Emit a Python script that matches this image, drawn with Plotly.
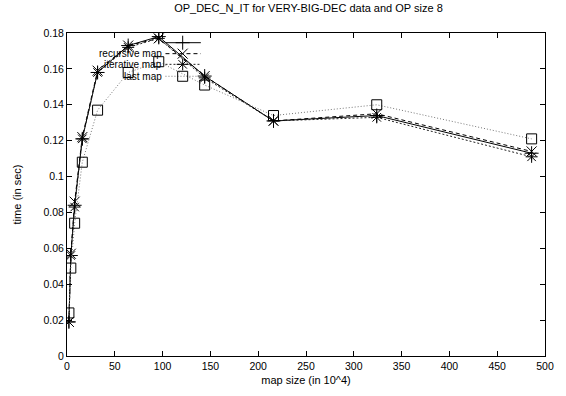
import plotly.graph_objects as go

map_size = [2, 4, 8, 16, 32, 64, 96, 144, 216, 324, 486]
series0 = [0.019, 0.056, 0.084, 0.121, 0.158, 0.173, 0.178, 0.156, 0.131, 0.134, 0.113]
recursive_map = [0.019, 0.057, 0.086, 0.122, 0.159, 0.173, 0.177, 0.156, 0.131, 0.135, 0.114]
iterative_map = [0.019, 0.056, 0.083, 0.121, 0.158, 0.172, 0.177, 0.155, 0.131, 0.133, 0.111]
last_map = [0.024, 0.049, 0.074, 0.108, 0.137, 0.158, 0.164, 0.151, 0.134, 0.140, 0.121]

names = ["", "recursive map", "iterative map", "last map"]
values = [series0, recursive_map, iterative_map, last_map]
dashes = ["solid", "4px,3px", "2px,2px", "1px,2px"]
colors = ["#000000", "#000000", "#222222", "#777777"]
symbols = ["cross-thin-open", "x-thin-open", "asterisk-open", "square-open"]

# legend key placement (paper fractions of the plot area)
leg_rows = [0.970, 0.936, 0.903, 0.866]
leg_x0, leg_x1, leg_xm, leg_text_x = 0.206, 0.280, 0.242, 0.200

font = dict(family="Liberation Sans, Arial, sans-serif", size=11, color="#000000")
legfont = dict(family="Liberation Sans, Arial, sans-serif", size=10, color="#000000")
tickfont = dict(family="Liberation Sans, Arial, sans-serif", size=10.5, color="#000000")

fig = go.Figure()
for n, v, d, c, s, ry in zip(names, values, dashes, colors, symbols, leg_rows):
    mk = dict(symbol=s, size=10, color="#000000", line=dict(color="#000000", width=1))
    fig.add_trace(go.Scatter(
        x=map_size, y=v, name=n, mode="lines+markers", showlegend=False,
        line=dict(color=c, width=1, dash=d), marker=mk,
    ))
    # legend key: sample line and marker
    fig.add_trace(go.Scatter(
        x=[leg_x0, leg_x1], y=[ry, ry], xaxis="x2", yaxis="y2", mode="lines",
        showlegend=False, hoverinfo="skip", line=dict(color=c, width=1, dash=d),
    ))
    fig.add_trace(go.Scatter(
        x=[leg_xm], y=[ry], xaxis="x2", yaxis="y2", mode="markers",
        showlegend=False, hoverinfo="skip", marker=mk,
    ))
    if n:
        fig.add_annotation(x=leg_text_x, y=ry, xref="x2", yref="y2", text=n,
                           showarrow=False, xanchor="right", yanchor="middle",
                           font=legfont, borderpad=0)

axis_common = dict(showgrid=False, zeroline=False, showline=True, linecolor="#000000",
                   linewidth=1, mirror="ticks", ticks="inside", ticklen=5,
                   tickcolor="#000000", tickfont=tickfont)

fig.update_layout(
    width=566, height=396,
    margin=dict(l=67, r=16, t=33, b=33),
    paper_bgcolor="white", plot_bgcolor="white",
    font=font,
    title=dict(text="OP_DEC_N_IT for VERY-BIG-DEC data and OP size 8",
               x=0.545, xanchor="center", y=0.988, yanchor="top",
               font=font),
    xaxis=dict(range=[0, 500], dtick=50, tick0=0,
               title=dict(text="map size (in 10^4)", font=font, standoff=5), **axis_common),
    yaxis=dict(range=[0, 0.18], dtick=0.02, tick0=0,
               title=dict(text="time (in sec)", font=font, standoff=19), **axis_common),
    xaxis2=dict(overlaying="x", range=[0, 1], visible=False, fixedrange=True),
    yaxis2=dict(overlaying="y", range=[0, 1], visible=False, fixedrange=True),
    showlegend=False,
)

fig.write_html("out.html")
